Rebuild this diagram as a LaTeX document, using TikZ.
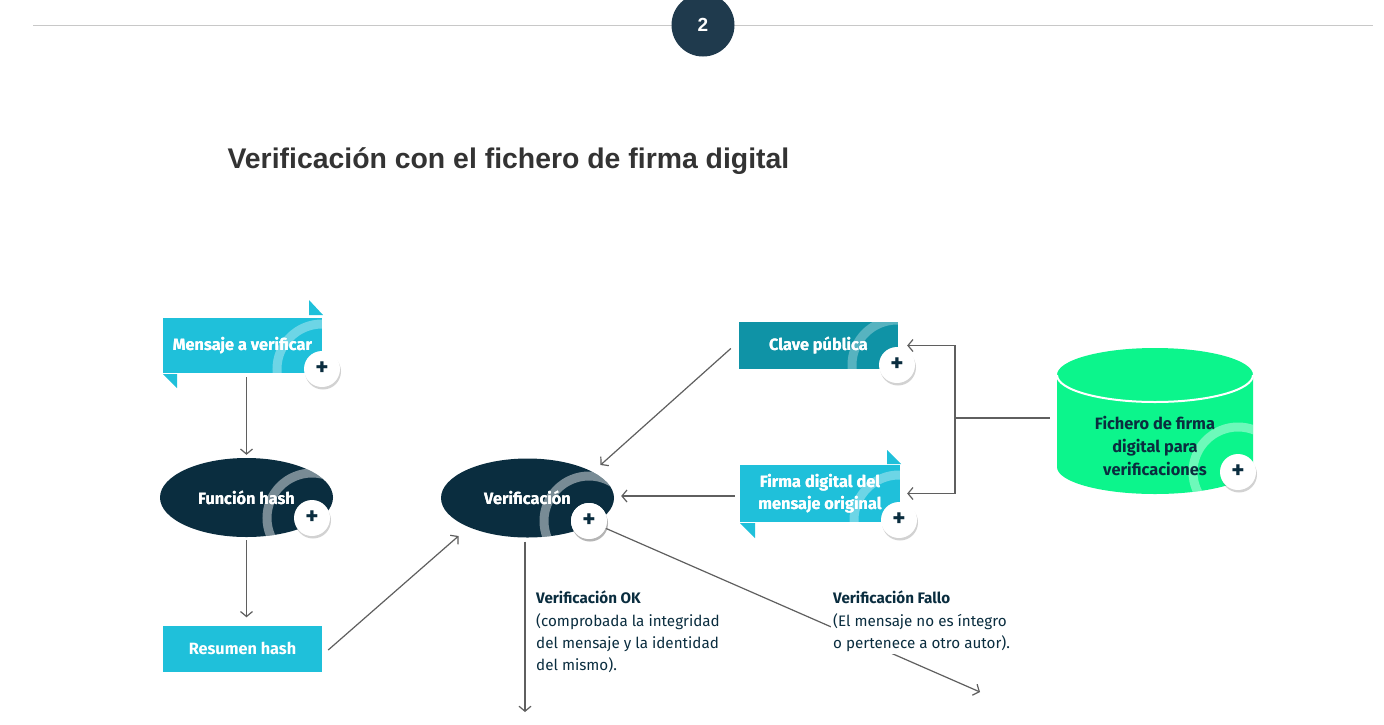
\documentclass[tikz,border=0pt]{standalone}
\usepackage{fontspec}
\setmainfont{Fira Sans}
\newfontfamily\titlefont{Liberation Sans}
\usepackage{tikz}
\usetikzlibrary{positioning,shapes.geometric,shadows,arrows.meta}
\definecolor{cyanbox}{RGB}{31,192,218}
\definecolor{tealbox}{RGB}{15,147,166}
\definecolor{navy}{RGB}{10,45,63}
\definecolor{greendb}{RGB}{12,245,140}
\definecolor{arrowgray}{RGB}{95,95,95}
\definecolor{numblue}{RGB}{31,58,77}
\definecolor{titlegray}{RGB}{51,51,51}
\definecolor{rulegray}{RGB}{200,200,200}
\tikzstyle{b1} = [rectangle, fill=cyanbox, text=white, inner sep=0pt, minimum width=159pt, minimum height=55pt, align=center, font=\bfseries\fontsize{16.3}{22}\selectfont]
\tikzstyle{b2} = [b1, fill=tealbox, minimum height=47pt]
\tikzstyle{e1} = [ellipse, fill=navy, text=white, inner sep=0pt, minimum width=173pt, minimum height=79pt, font=\bfseries\fontsize{16.3}{22}\selectfont]
\tikzstyle{pl} = [circle, fill=white, inner sep=0pt, minimum size=36pt, text=navy, font=\bfseries\fontsize{25}{25}\selectfont, drop shadow={opacity=0.35, shadow xshift=1pt, shadow yshift=-2.5pt}]
\tikzstyle{ring} = [draw=white, line width=9pt]
\tikzstyle{ar} = [draw=arrowgray, line width=1.2pt, -{Straight Barb[length=5pt, width=12pt]}]
\tikzstyle{txt} = [text=navy, align=left, inner sep=2pt, font=\fontsize{15.2}{22.3}\selectfont]

\begin{document}
\begin{tikzpicture}[x=1pt, y=-1pt]
\useasboundingbox[fill=white] (0,0) rectangle (1384,724);
% header
\coordinate (l0) at (33,25);
\coordinate (l1) at (1373,25);
\draw[rulegray, line width=1pt] (l0) -- (l1);
\node(N)[circle, fill=numblue, minimum size=63pt, text=white, font=\titlefont\bfseries\fontsize{19}{19}\selectfont] at (703,25) {2};
\node(T)[anchor=west, text=titlegray, font=\titlefont\bfseries\fontsize{28.4}{32}\selectfont] at (224,161) {Verificación con el fichero de firma digital};

% left column
\fill[cyanbox] (309,300) -- (309,315) -- (323,315) -- cycle;
\fill[cyanbox] (163,374) -- (177,374) -- (177,388) -- cycle;
\node(M)[b1] at (242.5,345.5) {Mensaje a verificar};
\node(F)[e1] at (246.5,497.5) {Función hash};
\node(R)[b1, minimum height=46pt] at (242.5,648.5) {Resumen hash};

% middle
\node(V)[e1] at (527.5,498) {Verificación};

% right column
\node(K)[b2] at (818.5,345.5) {Clave pública};
\fill[cyanbox] (887,450) -- (887,464) -- (901,464) -- cycle;
\fill[cyanbox] (740,523) -- (755,523) -- (755,538) -- cycle;
\node(S)[b1, minimum width=160pt, minimum height=57pt] at (820,493.5) {Firma digital del\\mensaje original};

% database
\fill[greendb] (1057,375) -- (1057,467) arc[start angle=180, end angle=360, x radius=98pt, y radius=27pt]
  -- (1253,375) arc[start angle=0, end angle=180, x radius=98pt, y radius=27pt] -- cycle;
\node(D)[minimum width=196pt, minimum height=140pt] at (1155,418) {};
\begin{scope}
\clip (1057,375) -- (1057,467) arc[start angle=180, end angle=360, x radius=98pt, y radius=27pt]
  -- (1253,375) arc[start angle=0, end angle=180, x radius=98pt, y radius=27pt] -- cycle;
\draw[ring, draw opacity=0.4] (1238,472) circle[radius=45pt];
\end{scope}
\draw[white, line width=2pt] (1057,375) arc[start angle=180, end angle=360, x radius=98pt, y radius=27pt];
\node(Dt)[text=navy, align=center, font=\bfseries\fontsize{16.4}{23}\selectfont] at (1155,446) {Fichero de firma\\digital para\\verificaciones};

% rings
\foreach \n/\px/\py/\o in {M/322/369/0.35,S/899/520/0.35,K/897/365/0.3}{
  \begin{scope}
  \clip (\n.south west) rectangle (\n.north east);
  \draw[ring, draw opacity=\o] (\px,\py) circle[radius=45pt];
  \end{scope}
}
\foreach \n/\px/\py in {F/312/518,V/589/521}{
  \begin{scope}
  \clip (\n.center) ellipse[x radius=86.5pt, y radius=39.5pt];
  \draw[ring, draw opacity=0.45] (\px,\py) circle[radius=45pt];
  \end{scope}
}
\node(Mt)[b1, fill=none] at (M) {Mensaje a verificar};
\node(Kt)[b2, fill=none] at (K) {Clave pública};
\node(St)[b1, fill=none, minimum width=160pt, minimum height=57pt] at (S) {Firma digital del\\mensaje original};
\node(Ft)[e1, fill=none] at (F) {Función hash};
\node(Vt)[e1, fill=none] at (V) {Verificación};

% buttons
\node(pm)[pl] at (322,369) {+};
\node(pf)[pl] at (312,518) {+};
\node(pk)[pl] at (897,365) {+};
\node(ps)[pl] at (899,520) {+};
\node(pd)[pl] at (1238,472) {+};

% connectors
\draw[ar] ([yshift=-4pt]M.south -| F.north) -- ([yshift=3pt]F.north);
\draw[ar] ([yshift=-3pt]F.south) -- ([yshift=8pt]R.north -| F.south);
\draw[ar] ([xshift=6pt,yshift=-1.5pt]R.east) -- ([xshift=-69pt,yshift=-38pt]V.center);
\draw[ar] ([xshift=-8pt,yshift=-3pt]K.west) -- ([xshift=73pt,yshift=33pt]V.center);
\draw[ar] ([xshift=-5pt,yshift=-2.5pt]S.west) -- ([xshift=7pt,yshift=-2.5pt]S.west -| V.east);
\coordinate (j) at (955,418);
\draw[arrowgray, line width=1.2pt] ([xshift=-7pt]D.west) -- (j);
\draw[ar] (j) |- ([xshift=9pt]K.east);
\draw[ar] (j) |- ([xshift=7pt]S.east);
\coordinate (ok) at (525,712);
\coordinate (fa) at (980,692);
\draw[ar] ([yshift=-4pt]V.south -| ok) -- (ok);
\node(pv)[pl] at (589,521) {+};
\draw[ar] (pv) -- (fa);
\node(pv2)[pl] at (pv) {+};

% outcomes
\node(Ok)[txt, anchor=north west] at (534,589) {\textbf{Verificación OK}\\(comprobada la integridad\\del mensaje y la identidad\\del mismo).};
\node(Fa)[txt, anchor=north west, fill=white] at (831,589) {\textbf{Verificación Fallo}\\(El mensaje no es íntegro\\o pertenece a otro autor).};
\end{tikzpicture}
\end{document}
